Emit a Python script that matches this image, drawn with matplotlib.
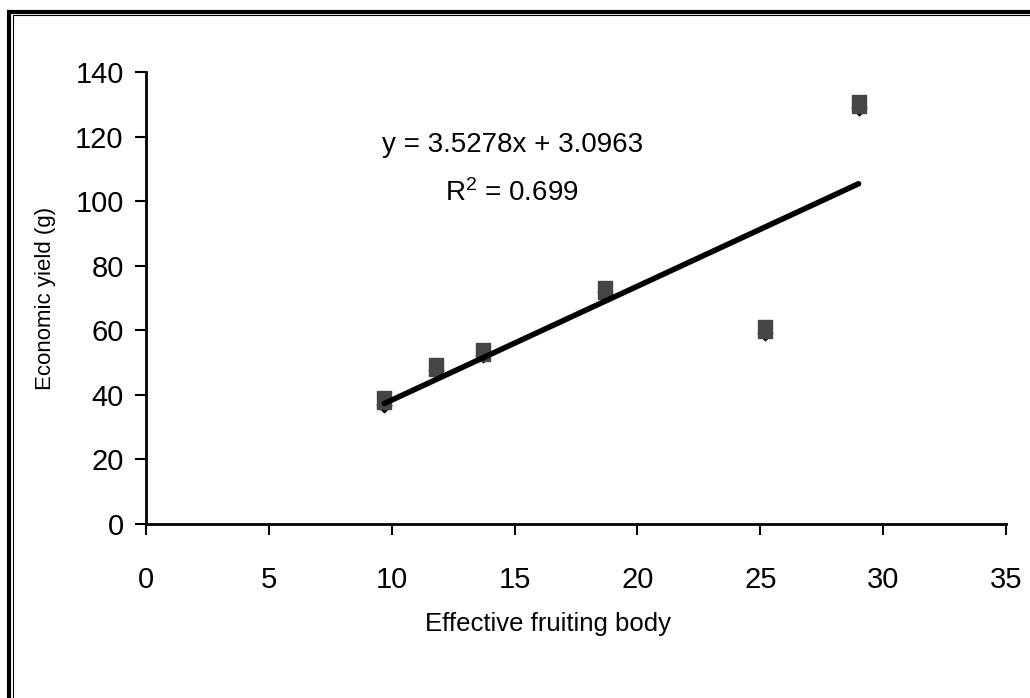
import numpy as np
import matplotlib.pyplot as plt
from matplotlib.patches import Rectangle

plt.rcParams['font.family'] = ['Liberation Sans', 'DejaVu Sans']

# data
fruiting = [9.7, 11.8, 13.7, 18.7, 25.2, 29.0]
yield_g = [37.0, 47.8, 52.3, 71.8, 59.3, 129.0]
yield_sq = [38.5, 48.7, 53.4, 72.6, 60.3, 130.0]
slope = 3.5278
icpt = 3.0963
r2 = 0.699

fig = plt.figure(figsize=(10.30, 6.98), dpi=100)
ax = fig.add_axes([0.1417, 0.2493, 0.8350, 0.6475])

# tall rounded-ish square marker, as in the original chart
sq = [(-0.78, -1), (0.78, -1), (0.78, 1), (-0.78, 1), (-0.78, -1)]
ax.scatter(fruiting, yield_g, marker='D', s=55, color='black', zorder=3)
ax.scatter(fruiting, yield_sq, marker=sq, s=170, color='#454545', zorder=4)

xf = np.array([min(fruiting), max(fruiting)])
ax.plot(xf, slope * xf + icpt, color='black', lw=4, solid_capstyle='round', zorder=5)

ax.set_xlim(0, 35)
ax.set_ylim(0, 140)
ax.set_xticks(np.arange(0, 36, 5))
ax.set_yticks(np.arange(0, 141, 20))
for s in ['top', 'right']:
    ax.spines[s].set_visible(False)
for s in ['left', 'bottom']:
    ax.spines[s].set_linewidth(2)
ax.tick_params(axis='both', direction='out', length=8, width=1.5, labelsize=21)
ax.tick_params(axis='x', pad=22)
ax.tick_params(axis='y', pad=8)

ax.set_xlabel('Effective fruiting body', fontsize=18.5, va='center')
ax.xaxis.set_label_coords(0.468, -0.221)
ax.set_ylabel('Economic yield (g)', fontsize=16, labelpad=14)

ax.text(14.9, 117.5, 'y = %.4fx + %.4f' % (slope, icpt), fontsize=20, ha='center', va='center')
ax.text(14.9, 102.5, '$\\mathregular{R^2}$ = %.3f' % r2, fontsize=20, ha='center', va='center')

# outer frame (right and bottom edges fall outside the picture)
fig.add_artist(Rectangle((0.0085, -0.05), 1.05, 1.033, transform=fig.transFigure,
                         fill=False, lw=3, color='black'))
fig.add_artist(Rectangle((0.0122, -0.05), 1.05, 1.028, transform=fig.transFigure,
                         fill=False, lw=0.8, color='black'))

fig.savefig('out.png', dpi=100)
